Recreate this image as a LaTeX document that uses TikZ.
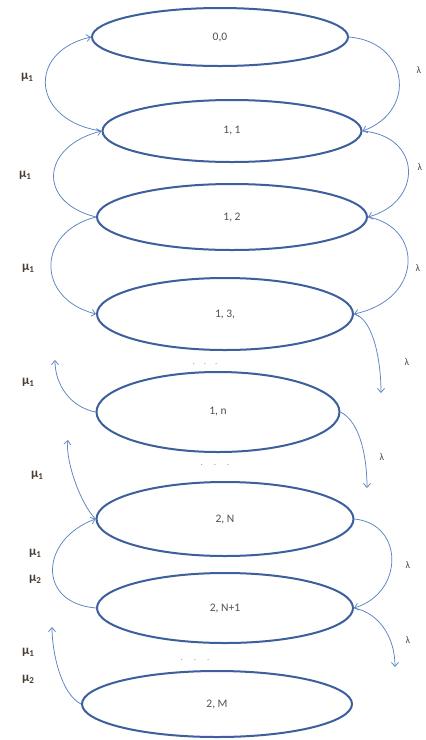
\documentclass[tikz,border=0pt]{standalone}
\usepackage{fontspec}
\setmainfont{Carlito}
\usetikzlibrary{arrows.meta,shapes.geometric}
\definecolor{ell}{HTML}{3D5F9C}
\definecolor{con}{HTML}{5B84C2}
\definecolor{txt}{HTML}{505050}
\definecolor{mucol}{HTML}{4A3E33}
\newcommand\mulab[1]{μ\raisebox{-0.3ex}{\fontsize{9}{9}\selectfont #1}}
\begin{document}
\begin{tikzpicture}[x=1pt,y=-1pt,
  st/.style={ellipse, draw=ell, line width=2pt, text=txt, font=\fontsize{11.5}{13}\selectfont, inner sep=0pt},
  con/.style={draw=con, line width=0.75pt, -{Straight Barb[length=4pt,width=7pt]}},
  mul/.style={text=mucol, font=\fontsize{13}{14}\selectfont\bfseries, inner sep=0pt},
  lam/.style={text=txt, font=\fontsize{10}{12}\selectfont, inner sep=0pt},
  dotrow/.style={text=gray!85, font=\fontsize{9}{9}\selectfont, inner sep=0pt}]
\fill[white] (0,0) rectangle (426,740);
\useasboundingbox (0,0) rectangle (426,740);

\node[st, minimum width=256pt, minimum height=58pt] (a) at (220,37) {0,0};
\node[st, minimum width=259pt, minimum height=62pt] (b) at (232,131) {1, 1};
\node[st, minimum width=270pt, minimum height=66pt] (c) at (232,217) {1, 2};
\node[st, minimum width=256pt, minimum height=72pt] (d) at (225,314) {1, 3,};
\node[st, minimum width=243pt, minimum height=80pt] (e) at (218,412) {1, n};
\node[st, minimum width=257pt, minimum height=74pt] (f) at (225,519) {2, N};
\node[st, minimum width=256pt, minimum height=70pt] (g) at (225,608) {2, N+1};
\node[st, minimum width=270pt, minimum height=66pt] (h) at (217,704) {2, M};

\coordinate (e1) at (55,360);
\coordinate (f1) at (68,440);
\coordinate (h1) at (52,627);
\coordinate (d1) at (381,393);
\coordinate (e2) at (367,488);
\coordinate (g1) at (395,667);

% left side
\draw[con] (b.west) .. controls +(-70,-10) and +(-65,15) .. (a.west);
\draw[con] (c.west) .. controls +(-60,-15) and +(-60,15) .. (b.west);
\draw[con] (c.west) .. controls +(-60,15) and +(-60,-15) .. (d.west);
\draw[con] (e.west) .. controls +(-25,-5) and +(0,25) .. (e1);
\draw[con] (f.west) .. controls +(-15,-15) and +(-3,20) .. (f1);
\draw[con] (g.west) .. controls +(-60,-5) and +(-55,20) .. (f.west);
\draw[con] (h.west) .. controls +(-20,-10) and +(0,25) .. (h1);

% right side
\draw[con] (a.east) .. controls +(60,5) and +(55,-20) .. (b.east);
\draw[con] (b.east) .. controls +(60,5) and +(55,-15) .. (c.east);
\draw[con] (c.east) .. controls +(55,10) and +(70,-15) .. (d.east);
\draw[con] (d.east) .. controls +(20,5) and +(0,-30) .. (d1);
\draw[con] (e.east) .. controls +(20,10) and +(0,-30) .. (e2);
\draw[con] (f.east) .. controls +(50,5) and +(50,-15) .. (g.east);
\draw[con] (g.east) .. controls +(25,5) and +(0,-30) .. (g1);

% mu labels
\node[mul] (m1) at (27,77) {\mulab{1}};
\node[mul] (m2) at (25,175) {\mulab{1}};
\node[mul] (m3) at (28,268) {\mulab{1}};
\node[mul] (m4) at (28,382) {\mulab{1}};
\node[mul] (m5) at (37,475) {\mulab{1}};
\node[mul] (m6) at (35,553) {\mulab{1}};
\node[mul] (m7) at (35,579) {\mulab{2}};
\node[mul] (m8) at (28,652) {\mulab{1}};
\node[mul] (m9) at (28,679) {\mulab{2}};

% lambda labels
\node[lam] (l1) at (419,70) {λ};
\node[lam] (l2) at (420,167) {λ};
\node[lam] (l3) at (418,268) {λ};
\node[lam] (l4) at (407,362) {λ};
\node[lam] (l5) at (382,457) {λ};
\node[lam] (l6) at (408,565) {λ};
\node[lam] (l7) at (408,640) {λ};

% dots
\node[dotrow] (t1) at (205,364) {.\hspace{9pt}.\hspace{9pt}.};
\node[dotrow] (t2) at (215,465) {.\hspace{11pt}.\hspace{11pt}.};
\node[dotrow] (t3) at (195,660) {.\hspace{11pt}.\hspace{11pt}.};
\end{tikzpicture}
\end{document}
